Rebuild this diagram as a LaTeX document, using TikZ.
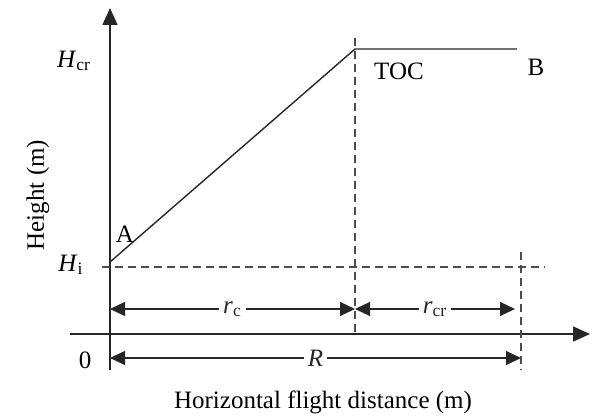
\documentclass[tikz,border=0pt]{standalone}
\usepackage{fontspec}
\setmainfont{Liberation Serif}
\usetikzlibrary{arrows.meta}
\tikzset{
  axis/.style={line width=0.7pt,black!85,-{Triangle[length=8.5pt,width=7.5pt]}},
  guide/.style={dash pattern=on 4pt off 2.5pt,line width=0.6pt,black!70},
  path line/.style={line width=0.7pt,black!85},
  dimline/.style={line width=0.6pt,black!85,{Triangle[length=7.5pt,width=7pt]}-{Triangle[length=7.5pt,width=7pt]}},
  dimlabel/.style={fill=white,inner sep=2pt},
}
\begin{document}
\begin{tikzpicture}[x=0.5pt,y=0.5pt,font=\fontsize{12.5}{15}\selectfont]
\useasboundingbox (0,0) rectangle (598,418);
% axes
\coordinate (ybot) at (110,48);
\coordinate (ytop) at (110,410);
\coordinate (xleft) at (70,84);
\coordinate (xright) at (590,84);
\draw[axis] (ybot) -- (ytop);
\draw[axis] (xleft) -- (xright);
% flight path
\coordinate (A) at (110,156);
\coordinate (TOC) at (355,369);
\coordinate (B) at (517,369);
\draw[path line] (A) -- (TOC) -- (B);
% guide lines
\coordinate (hil) at (102,151);
\coordinate (hir) at (545,151);
\coordinate (toctop) at (355,380);
\coordinate (tocbot) at (355,84);
\coordinate (rtop) at (521,166);
\coordinate (rbot) at (521,48);
\draw[guide] (hil) -- (hir);
\draw[guide] (toctop) -- (tocbot);
\draw[guide] (rtop) -- (rbot);
% distances
\coordinate (rcl) at (110,109);
\coordinate (rcr) at (355,109);
\coordinate (rcrr) at (515,109);
\coordinate (Rl) at (110,60);
\coordinate (Rr) at (521,60);
\draw[dimline] (rcl) -- node[dimlabel] (rclab) {\textit{r}\textsubscript{c}} (rcr);
\draw[dimline] (rcr) -- node[dimlabel] (rcrlab) {\textit{r}\textsubscript{cr}} (rcrr);
\draw[dimline] (Rl) -- node[dimlabel] (Rlab) {\textit{R}} (Rr);
% labels
\node (hcrlab) at (74,357) {\textit{H}\textsubscript{cr}};
\node (hilab) at (71,153) {\textit{H}\textsubscript{i}};
\node (alab) at (125,184) {A};
\node (toclab) at (399,347) {TOC};
\node (blab) at (536,351) {B};
\node (zerolab) at (85,58) {0};
\node (xlab) at (323,16) {Horizontal flight distance (m)};
\node[rotate=90] (ylab) at (38,223) {Height (m)};
\end{tikzpicture}
\end{document}
